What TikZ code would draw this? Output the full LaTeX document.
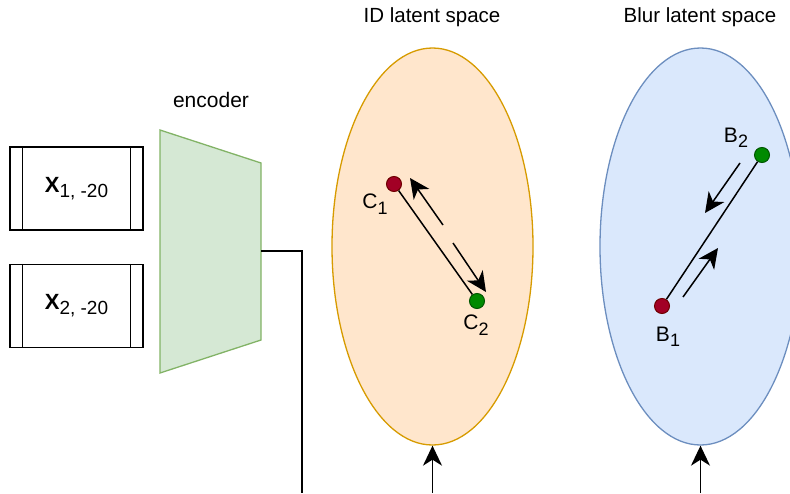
\documentclass[tikz,border=0pt]{standalone}
\usepackage{fontspec}
\setmainfont{Liberation Sans}
\usetikzlibrary{arrows.meta}
\usetikzlibrary{shapes.geometric}
\definecolor{idfill}{HTML}{FFE6CC}
\definecolor{iddraw}{HTML}{D79B00}
\definecolor{blurfill}{HTML}{DAE8FC}
\definecolor{blurdraw}{HTML}{6C8EBF}
\definecolor{encfill}{HTML}{D5E8D4}
\definecolor{encdraw}{HTML}{82B366}
\definecolor{redfill}{HTML}{A20025}
\definecolor{reddraw}{HTML}{6F0000}
\definecolor{greenfill}{HTML}{008A00}
\definecolor{greendraw}{HTML}{005700}
\newcommand{\xlab}[1]{{\fontsize{22}{24}\selectfont\bfseries X}\raisebox{-0.45ex}{\fontsize{19}{21}\selectfont #1}}
\newcommand{\plab}[2]{{\fontsize{21}{23}\selectfont #1}\raisebox{-0.5ex}{\fontsize{18}{20}\selectfont #2}}

\begin{document}
\begin{tikzpicture}[x=1pt,y=-1pt,
    imgbox/.style={draw, line width=1.3pt, minimum width=133pt, minimum height=83pt, inner sep=0pt},
    space/.style={ellipse, line width=1.3pt, minimum width=201pt, minimum height=397pt, inner sep=0pt},
    dot/.style={circle, line width=1pt, minimum size=15pt, inner sep=0pt},
    link/.style={line width=1.5pt},
    >={Stealth[length=20pt,width=19pt,inset=6pt]},
    font=\fontsize{20.5}{23}\selectfont]
        \useasboundingbox (0,0) rectangle (790,493);

        % input images
        \node[imgbox] (x1) at (76.5,188.5) {\xlab{1, -20}};
        \node[imgbox] (x2) at (76.5,306) {\xlab{2, -20}};
        \draw[line width=1.3pt] ([xshift=13pt]x1.north west) -- ([xshift=13pt]x1.south west);
        \draw[line width=1.3pt] ([xshift=-13pt]x1.north east) -- ([xshift=-13pt]x1.south east);
        \draw[line width=1.3pt] ([xshift=13pt]x2.north west) -- ([xshift=13pt]x2.south west);
        \draw[line width=1.3pt] ([xshift=-13pt]x2.north east) -- ([xshift=-13pt]x2.south east);

        % encoder
        \filldraw[fill=encfill, draw=encdraw, line width=1.3pt] (160,130) -- (261,163) -- (261,340) -- (160,373) -- cycle;
        \coordinate (encout) at (261,251);
        \coordinate (encend) at (302,493);
        \node[font=\fontsize{21}{23}\selectfont] (enclab) at (211,100) {encoder};
        \draw[link] (encout) -| (encend);

        % latent spaces
        \node[space, fill=idfill, draw=iddraw] (idsp) at (432.5,246.5) {};
        \node[space, fill=blurfill, draw=blurdraw] (blursp) at (700.5,246.5) {};
        \node (idlab) at (432,17) {ID latent space};
        \node (blurlab) at (700,17) {Blur latent space};

        \coordinate (idin) at (432.5,493);
        \coordinate (blurin) at (700.5,493);
        \draw[->, link] (idin) -- (idsp.south);
        \draw[->, link] (blurin) -- (blursp.south);

        % ID points
        \node[dot, fill=redfill, draw=reddraw] (c1) at (394,184) {};
        \node[dot, fill=greenfill, draw=greendraw] (c2) at (477,301) {};
        \node (c1lab) at (375,204) {\plab{C}{1}};
        \node (c2lab) at (476,325) {\plab{C}{2}};
        \draw[link] (c1) -- (c2);
        \coordinate (ca1) at (443,225);
        \coordinate (ca2) at (410,178);
        \coordinate (ca3) at (453,243);
        \coordinate (ca4) at (486,292);
        \draw[->, link] (ca1) -- (ca2);
        \draw[->, link] (ca3) -- (ca4);

        % Blur points
        \node[dot, fill=redfill, draw=reddraw] (b1) at (662,306) {};
        \node[dot, fill=greenfill, draw=greendraw] (b2) at (762,155) {};
        \node (b1lab) at (668,337) {\plab{B}{1}};
        \node (b2lab) at (736,138) {\plab{B}{2}};
        \draw[link] (b1) -- (b2);
        \coordinate (ba1) at (740,163);
        \coordinate (ba2) at (705,213);
        \coordinate (ba3) at (683,297);
        \coordinate (ba4) at (718,248);
        \draw[->, link] (ba1) -- (ba2);
        \draw[->, link] (ba3) -- (ba4);

    \end{tikzpicture}
\end{document}
